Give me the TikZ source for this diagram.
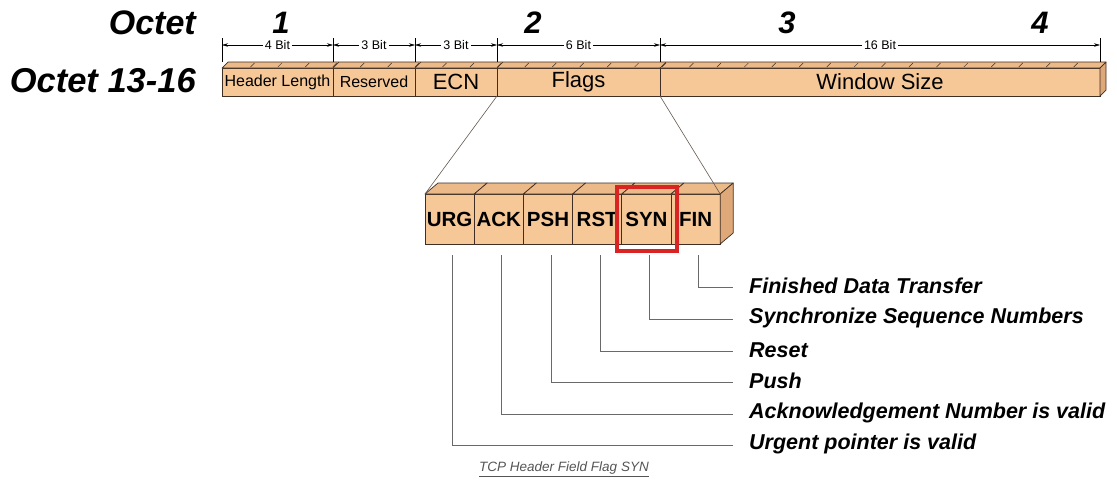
\documentclass[tikz,border=0pt]{standalone}
\usepackage{fontspec}
\setmainfont{Liberation Sans}
\usetikzlibrary{arrows.meta}
\definecolor{boxfront}{RGB}{246,199,151}
\definecolor{boxtop}{RGB}{236,185,137}
\definecolor{boxside}{RGB}{222,168,121}
\definecolor{boxline}{RGB}{62,46,36}
\definecolor{synred}{RGB}{218,36,36}
\definecolor{leadgray}{RGB}{105,105,105}
\definecolor{capgray}{RGB}{85,85,85}
\begin{document}
\begin{tikzpicture}[x=1pt,y=-1pt,
    field/.style={draw=boxline,fill=boxfront,line width=0.7pt,minimum height=28pt,
      inner sep=0pt,outer sep=0pt,anchor=north west,font=\fontsize{16}{16}\selectfont},
    bigfield/.style={field,font=\fontsize{22}{22}\selectfont},
    face/.style={draw=boxline,line width=0.7pt,line join=round},
    tick/.style={boxline,line width=0.5pt},
    dimline/.style={line width=0.5pt,{Stealth[length=6pt,width=3.5pt]}-{Stealth[length=6pt,width=3.5pt]}},
    bitlabel/.style={fill=white,inner sep=2pt,font=\fontsize{12.5}{12.5}\selectfont},
    octet/.style={font=\fontsize{31}{31}\selectfont\bfseries\itshape,inner sep=0pt},
    flagcell/.style={draw=boxline,fill=boxfront,line width=0.7pt,minimum width=49.2pt,
      minimum height=50pt,inner sep=0pt,outer sep=0pt,anchor=north west,
      font=\fontsize{20.5}{20.5}\selectfont\bfseries},
    flagtxt/.style={anchor=west,inner sep=2pt,font=\fontsize{21.5}{21.5}\selectfont\bfseries\itshape},
    leader/.style={draw=leadgray,line width=0.8pt},
    zoomline/.style={draw=boxline!80,line width=0.6pt}]
    \useasboundingbox (0,0) rectangle (1117,483);
    \node[octet,anchor=east,font=\fontsize{34}{34}\selectfont\bfseries\itshape] (octlbl) at (196,23) {Octet};
    \node[octet,anchor=east,font=\fontsize{34.5}{34.5}\selectfont\bfseries\itshape] (rowlbl) at (196,81) {Octet 13-16};
    \foreach \n/\x in {1/281,2/533,3/787,4/1040}
        \node[octet] (oct\n) at (\x,23) {\n};
    \node[field,minimum width=111pt] (hdr) at (222,68) {Header Length};
    \node[field,minimum width=82pt] (res) at (333,68) {Reserved};
    \node[bigfield,minimum width=82pt] (ecn) at (415,68) {ECN};
    \node[bigfield,minimum width=163pt] (flg) at (497,68) {Flags};
    \node[bigfield,minimum width=440pt] (win) at (660,68) {Window Size};
    \draw[face,fill=boxtop] (hdr.north west) -- ++(6,-6) -- ([shift={(6,-6)}]win.north east) -- (win.north east) -- cycle;
    \draw[face,fill=boxside] (win.north east) -- ++(6,-6) -- ++(0,28) -- (win.south east) -- cycle;
    \foreach \b in {1,...,31}
        \draw[tick] (222+\b*27.44+1,67) -- ++(4,-4);
    \foreach \f in {res,ecn,flg,win}
        \draw[tick] (\f.north west) -- ++(6,-6);
    \foreach \f in {hdr,res,ecn,flg}
        \draw[line width=0.5pt] ([yshift=6pt]\f.north west) -- ++(0,-24);
    \draw[line width=0.5pt] ([yshift=6pt]win.north west) -- ++(0,-24);
    \draw[line width=0.5pt] ([yshift=6pt]win.north east) -- ++(0,-24);
    \foreach \f/\t in {hdr/4 Bit,res/3 Bit,ecn/3 Bit,flg/6 Bit,win/16 Bit}
        \draw[dimline] ([yshift=23pt]\f.north west) -- node[bitlabel] {\t} ([yshift=23pt]\f.north east);
    \foreach \name/\txt [count=\i from 0] in {urg/URG,ack/ACK,psh/PSH,rst/RST,syn/SYN,fin/FIN}
    {
        \node[flagcell] (\name) at (425+\i*49.2,194) {\txt};
        \draw[face,fill=boxtop] (\name.north west) -- ++(13,-11) -- ++(49.2,0) -- (\name.north east) -- cycle;
    }
    \draw[face,fill=boxside] (fin.north east) -- ++(13,-11) -- ++(0,50) -- (fin.south east) -- cycle;
    \draw[zoomline] (flg.south west) -- (urg.north west);
    \draw[zoomline] (flg.south east) -- (fin.north east);
    \draw[synred,line width=3.5pt] ([shift={(-5,-7)}]syn.north west) rectangle ([shift={(6,7)}]syn.south east);
    \node[flagtxt] (fintxt) at (747,286) {Finished Data Transfer};
    \node[flagtxt] (syntxt) at (747,318) {Synchronize Sequence Numbers};
    \node[flagtxt] (rsttxt) at (747,350) {Reset};
    \node[flagtxt] (pshtxt) at (747,381) {Push};
    \node[flagtxt] (acktxt) at (747,413) {Acknowledgement Number is valid};
    \node[flagtxt] (urgtxt) at (747,444) {Urgent pointer is valid};
    \foreach \f in {urg,ack,psh,rst,syn,fin}
        \draw[leader] ([xshift=3pt,yshift=-11pt]\f.south) |- ([xshift=-14pt,yshift=-1pt]\f txt.west);
    \node[text=capgray,font=\fontsize{13.5}{13.5}\selectfont\itshape] (caption) at (564,469) {\underline{TCP Header Field Flag SYN}};
\end{tikzpicture}
\end{document}
